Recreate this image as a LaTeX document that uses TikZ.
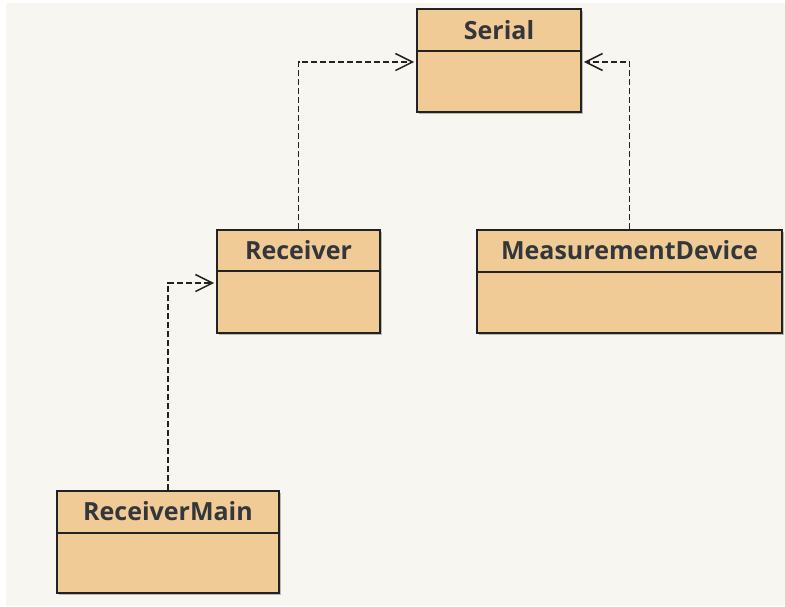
\documentclass[tikz,border=0pt]{standalone}
\usepackage{fontspec}
\setmainfont{Open Sans}
\usetikzlibrary{arrows.meta,shadows}
\definecolor{canvasbg}{HTML}{F7F6F1}
\definecolor{classfill}{HTML}{F0CB96}
\definecolor{classline}{HTML}{222222}
\definecolor{classtext}{HTML}{33363B}
\tikzset{
  classbox/.style={draw=classline, line width=1.8pt, fill=classfill,
    minimum height=103pt, inner sep=0pt,
    drop shadow={shadow xshift=2pt, shadow yshift=-2pt, opacity=0.25, fill=black}},
  classname/.style={font=\fontsize{25}{29}\selectfont\bfseries, text=classtext, inner sep=0pt},
  divider/.style={draw=classline, line width=1.6pt},
  depends/.style={draw=classline, line width=1.3pt, dash pattern=on 6pt off 3pt,
    shorten >=2pt,
    -{Straight Barb[length=17pt,width=17pt,line width=1.5pt]}}
}
\begin{document}
\begin{tikzpicture}[x=1pt,y=-1pt]
\useasboundingbox (0,0) rectangle (785,606);
\fill[white] (0,0) rectangle (785,606);
\fill[canvasbg] (6,3) rectangle (785,606);

% class boxes
\node[classbox, minimum width=164pt] (serial) at (499,60.5) {};
\node[classbox, minimum width=163pt] (receiver) at (298.5,281.5) {};
\node[classbox, minimum width=305pt] (device) at (629.5,281.5) {};
\node[classbox, minimum width=222pt, minimum height=102pt] (rmain) at (168,542) {};

% compartment dividers
\draw[divider] ([yshift=-43pt]serial.north west) -- ([yshift=-43pt]serial.north east);
\draw[divider] ([yshift=-42pt]receiver.north west) -- ([yshift=-42pt]receiver.north east);
\draw[divider] ([yshift=-43pt]device.north west) -- ([yshift=-43pt]device.north east);
\draw[divider] ([yshift=-43pt]rmain.north west) -- ([yshift=-43pt]rmain.north east);

% class names
\node[classname] (serialname) at ([yshift=-22pt]serial.north) {Serial};
\node[classname] (receivername) at ([yshift=-21pt]receiver.north) {Receiver};
\node[classname] (devicename) at ([yshift=-21.5pt]device.north) {MeasurementDevice};
\node[classname] (rmainname) at ([yshift=-21.5pt]rmain.north) {ReceiverMain};

% dependencies
\draw[depends] (receiver.north) |- ([yshift=-1.5pt]serial.west);
\draw[depends] (device.north) |- ([yshift=-1.5pt]serial.east);
\draw[depends] (rmain.north) |- ([yshift=-1.5pt]receiver.west);
\end{tikzpicture}
\end{document}
